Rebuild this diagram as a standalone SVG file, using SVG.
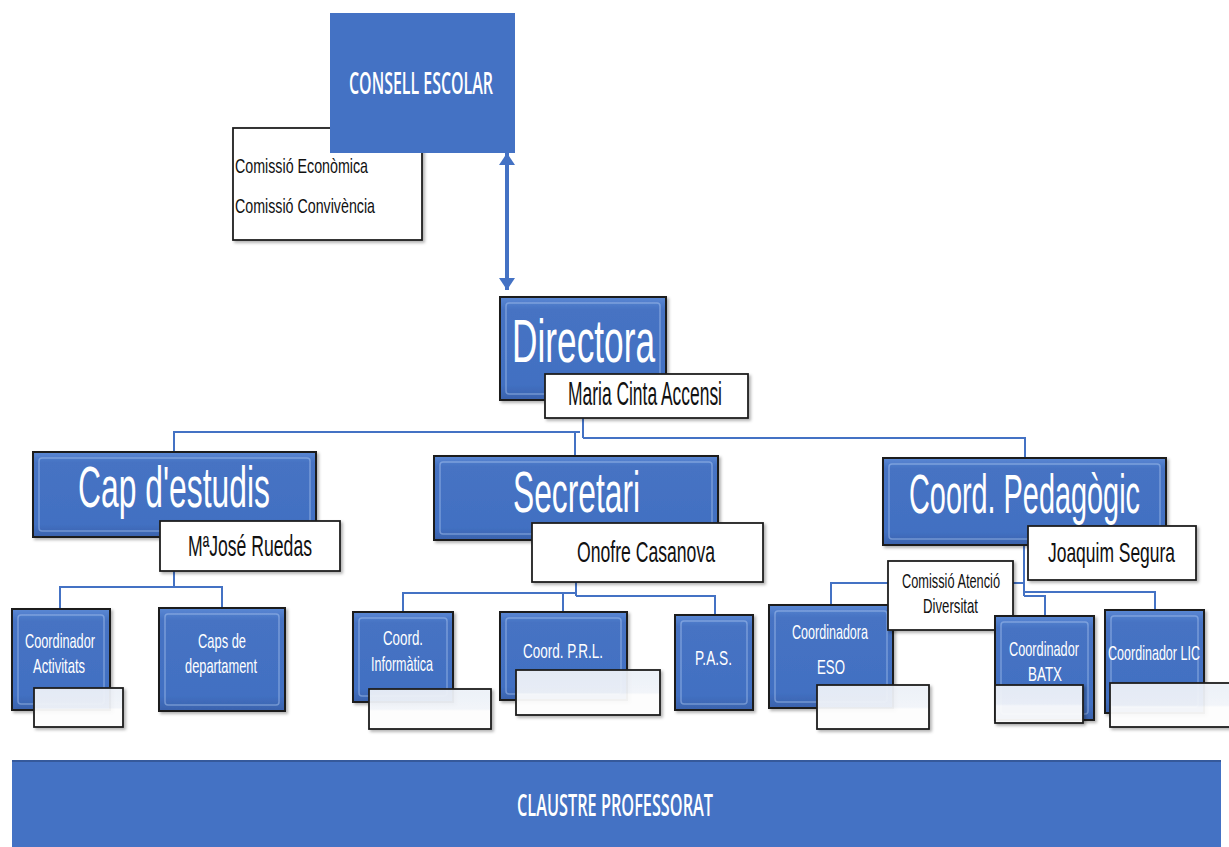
<svg xmlns="http://www.w3.org/2000/svg" width="1229" height="847" viewBox="0 0 1229 847">
<defs>
  <linearGradient id="bev" x1="0" y1="0" x2="0" y2="1">
    <stop offset="0" stop-color="#5b88d4"/>
    <stop offset="0.12" stop-color="#4673c3"/>
    <stop offset="0.85" stop-color="#4270c2"/>
    <stop offset="1" stop-color="#3a62ac"/>
  </linearGradient>
  <linearGradient id="wb" x1="0" y1="0" x2="0" y2="1">
    <stop offset="0" stop-color="#eef2f9"/>
    <stop offset="0.5" stop-color="#f3f6fb"/>
    <stop offset="0.55" stop-color="#ffffff"/>
    <stop offset="1" stop-color="#ffffff"/>
  </linearGradient>
  <filter id="sh" x="-10%" y="-10%" width="130%" height="130%">
    <feDropShadow dx="2" dy="2" stdDeviation="1.5" flood-color="#000" flood-opacity="0.3"/>
  </filter>
  <marker id="ah" viewBox="0 0 12 16" refX="12" refY="8" markerWidth="12" markerHeight="16" markerUnits="userSpaceOnUse" orient="auto-start-reverse">
    <path d="M0,0 L12,8 L0,16 z" fill="#4472C4"/>
  </marker>
  <style>
    .blue{fill:url(#bev);stroke:#1e1e1e;stroke-width:2}
    .hl{fill:none;stroke:#b3cbf3;stroke-opacity:0.45;stroke-width:1.5}
    .flat{fill:#4472C4}
    .name{fill:#ffffff;stroke:#1e1e1e;stroke-width:1.8}
    .empty{fill:url(#wb);fill-opacity:0.93;stroke:#1e1e1e;stroke-width:1.8}
    .conn{fill:none;stroke:#4472C4;stroke-width:2}
    .big{font-family:"Liberation Sans",Arial,sans-serif;fill:#ffffff;text-anchor:middle}
    .nm{font-family:"Liberation Sans",Arial,sans-serif;fill:#111111;text-anchor:middle}
    .sm{font-family:"Liberation Sans",Arial,sans-serif;fill:#ffffff;text-anchor:middle;font-size:21px}
    .cal{font-family:"Open Sans","Liberation Sans",sans-serif;fill:#ffffff;text-anchor:middle;font-weight:600}
    .blk{font-family:"Liberation Sans",Arial,sans-serif;fill:#111111}
  </style>
</defs>
<rect width="1229" height="847" fill="#ffffff"/>

<g id="connectors">
  <line x1="507" y1="153" x2="507" y2="290" stroke="#4472C4" stroke-width="4" marker-start="url(#ah)" marker-end="url(#ah)"/>
  <path class="conn" d="M583,418 V438 M174,452 V432 H580 M575,432 V456 M583,438 H1025 V458"/>
  <path class="conn" d="M174,537 V587 M60,609 V587 H222 V608"/>
  <path class="conn" d="M576,540 V596 M403,612 V593 H576 M563,593 V612 M576,596 H715 V615"/>
  <path class="conn" d="M1024,545 V596 M831,605 V583 H1024 M1024,592 H1155 V610 M1024,596 H1045 V616"/>
</g>

<g id="comissions">
  <rect x="233" y="128" width="189" height="112" class="name" filter="url(#sh)"/>
  <text class="blk" x="235" y="173" font-size="21" textLength="133" lengthAdjust="spacingAndGlyphs">Comissió Econòmica</text>
  <text class="blk" x="235" y="213" font-size="21" textLength="140" lengthAdjust="spacingAndGlyphs">Comissió Convivència</text>
</g>

<g id="consell">
  <rect x="330" y="13" width="185" height="140" class="flat"/>
  <text class="cal" x="421" y="94" font-size="30" textLength="144" lengthAdjust="spacingAndGlyphs">CONSELL ESCOLAR</text>
</g>

<g id="directora">
  <rect x="500" y="297" width="166" height="103" class="blue" filter="url(#sh)"/>
  <rect x="506" y="303" width="154" height="91" rx="3" class="hl"/>
  <text class="big" x="583.5" y="362" font-size="62" textLength="143" lengthAdjust="spacingAndGlyphs">Directora</text>
  <rect x="545" y="374" width="203" height="44" class="name" filter="url(#sh)"/>
  <text class="nm" x="645" y="405" font-size="33" textLength="154" lengthAdjust="spacingAndGlyphs">Maria Cinta Accensi</text>
</g>

<g id="cap-estudis">
  <rect x="33" y="452" width="283" height="85" class="blue" filter="url(#sh)"/>
  <rect x="39" y="458" width="271" height="73" rx="3" class="hl"/>
  <text class="big" x="174" y="507" font-size="58" textLength="192" lengthAdjust="spacingAndGlyphs">Cap d'estudis</text>
  <rect x="160" y="521" width="180" height="50" class="name" filter="url(#sh)"/>
  <text class="nm" x="250" y="556" font-size="29" textLength="124" lengthAdjust="spacingAndGlyphs">MªJosé Ruedas</text>
</g>

<g id="secretari">
  <rect x="434" y="456" width="284" height="84" class="blue" filter="url(#sh)"/>
  <rect x="440" y="462" width="272" height="72" rx="3" class="hl"/>
  <text class="big" x="576.5" y="512" font-size="58" textLength="127" lengthAdjust="spacingAndGlyphs">Secretari</text>
  <rect x="532" y="523" width="231" height="59" class="name" filter="url(#sh)"/>
  <text class="nm" x="646" y="562" font-size="30" textLength="138" lengthAdjust="spacingAndGlyphs">Onofre Casanova</text>
</g>

<g id="coord-pedagogic">
  <rect x="883" y="458" width="283" height="87" class="blue" filter="url(#sh)"/>
  <rect x="889" y="464" width="271" height="75" rx="3" class="hl"/>
  <text class="big" x="1024.5" y="513" font-size="56" textLength="231" lengthAdjust="spacingAndGlyphs">Coord. Pedagògic</text>
  <rect x="1028" y="526" width="168" height="54" class="name" filter="url(#sh)"/>
  <text class="nm" x="1111.5" y="562" font-size="28" textLength="127" lengthAdjust="spacingAndGlyphs">Joaquim Segura</text>
</g>

<g id="coord-activitats">
  <rect x="12" y="609" width="98" height="101" class="blue" filter="url(#sh)"/>
  <rect x="18" y="615" width="86" height="89" rx="3" class="hl"/>
  <text class="sm" x="60" y="648" textLength="70" lengthAdjust="spacingAndGlyphs">Coordinador</text>
  <text class="sm" x="59" y="673" textLength="52" lengthAdjust="spacingAndGlyphs">Activitats</text>
  <rect x="34" y="688" width="89" height="39" class="empty" filter="url(#sh)"/>
</g>

<g id="caps-departament">
  <rect x="159" y="608" width="126" height="103" class="blue" filter="url(#sh)"/>
  <rect x="165" y="614" width="114" height="91" rx="3" class="hl"/>
  <text class="sm" x="222" y="648" textLength="48" lengthAdjust="spacingAndGlyphs">Caps de</text>
  <text class="sm" x="221" y="673" textLength="72" lengthAdjust="spacingAndGlyphs">departament</text>
</g>

<g id="coord-informatica">
  <rect x="353" y="612" width="100" height="90" class="blue" filter="url(#sh)"/>
  <rect x="359" y="618" width="88" height="78" rx="3" class="hl"/>
  <text class="sm" x="403" y="645" textLength="40" lengthAdjust="spacingAndGlyphs">Coord.</text>
  <text class="sm" x="402" y="671" textLength="62" lengthAdjust="spacingAndGlyphs">Informàtica</text>
  <rect x="369" y="689" width="122" height="40" class="empty" filter="url(#sh)"/>
</g>

<g id="coord-prl">
  <rect x="500" y="612" width="127" height="88" class="blue" filter="url(#sh)"/>
  <rect x="506" y="618" width="115" height="76" rx="3" class="hl"/>
  <text class="sm" x="563" y="658" textLength="80" lengthAdjust="spacingAndGlyphs">Coord. P.R.L.</text>
  <rect x="516" y="670" width="144" height="45" class="empty" filter="url(#sh)"/>
</g>

<g id="pas">
  <rect x="675" y="615" width="78" height="95" class="blue" filter="url(#sh)"/>
  <rect x="681" y="621" width="66" height="83" rx="3" class="hl"/>
  <text class="sm" x="713.5" y="665" textLength="37" lengthAdjust="spacingAndGlyphs">P.A.S.</text>
</g>

<g id="coordinadora-eso">
  <rect x="769" y="605" width="124" height="103" class="blue" filter="url(#sh)"/>
  <rect x="775" y="611" width="112" height="91" rx="3" class="hl"/>
  <text class="sm" x="830" y="639" textLength="76" lengthAdjust="spacingAndGlyphs">Coordinadora</text>
  <text class="sm" x="831" y="674" textLength="28" lengthAdjust="spacingAndGlyphs">ESO</text>
  <rect x="817" y="685" width="112" height="44" class="empty" filter="url(#sh)"/>
</g>

<g id="comissio-atencio">
  <rect x="888" y="561" width="125" height="69" class="name" filter="url(#sh)"/>
  <text class="nm" x="951" y="588" font-size="21" textLength="98" lengthAdjust="spacingAndGlyphs">Comissió Atenció</text>
  <text class="nm" x="950.5" y="613" font-size="21" textLength="55" lengthAdjust="spacingAndGlyphs">Diversitat</text>
</g>

<g id="coordinador-batx">
  <rect x="995" y="616" width="99" height="104" class="blue" filter="url(#sh)"/>
  <rect x="1001" y="622" width="87" height="92" rx="3" class="hl"/>
  <text class="sm" x="1044" y="656" textLength="70" lengthAdjust="spacingAndGlyphs">Coordinador</text>
  <text class="sm" x="1045" y="681" textLength="34" lengthAdjust="spacingAndGlyphs">BATX</text>
  <rect x="995" y="685" width="88" height="38" class="empty" filter="url(#sh)"/>
</g>

<g id="coordinador-lic">
  <rect x="1105" y="610" width="99" height="103" class="blue" filter="url(#sh)"/>
  <rect x="1111" y="616" width="87" height="91" rx="3" class="hl"/>
  <text class="sm" x="1154" y="660" textLength="92" lengthAdjust="spacingAndGlyphs">Coordinador LIC</text>
  <rect x="1110" y="683" width="122" height="44" class="empty" filter="url(#sh)"/>
</g>

<g id="claustre">
  <rect x="12" y="760" width="1209" height="90" class="flat"/>
  <rect x="12" y="760" width="1209" height="2" fill="#35599b"/>
  <text class="cal" x="615" y="816" font-size="30" textLength="196" lengthAdjust="spacingAndGlyphs">CLAUSTRE PROFESSORAT</text>
</g>
</svg>
